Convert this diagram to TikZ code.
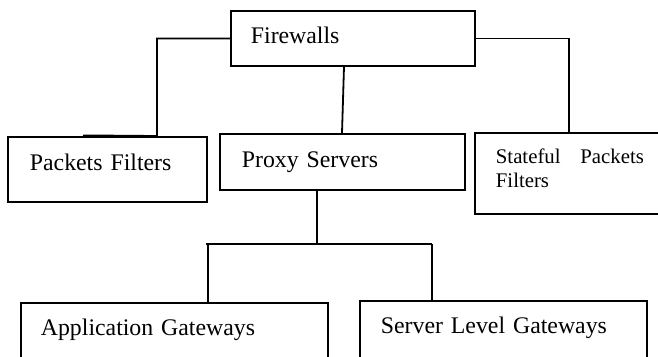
\documentclass[tikz,border=0pt]{standalone}
\usepackage{fontspec}
\setmainfont{Liberation Serif}
\usetikzlibrary{calc}

\tikzset{
  box/.style={draw, line width=1.8pt, anchor=north west, inner ysep=0pt,
    align=left, font=\fontsize{23.8}{25}\selectfont},
  link/.style={line width=1.8pt},
}

\begin{document}
\begin{tikzpicture}[x=1pt, y=-1pt]
  \useasboundingbox[fill=white] (0,0) rectangle (658,356);

  % boxes: text height = top to first baseline, text depth = baseline to bottom
  \node[box, inner xsep=20pt, text width=204pt, text height=33pt, text depth=22pt]
    (fw) at (230,10) {Firewalls};
  \node[box, inner xsep=22pt, text width=155pt, text height=34pt, text depth=31pt]
    (pf) at (7,136) {Packets Filters};
  \node[box, inner xsep=22pt, text width=201pt, text height=34pt, text depth=22pt]
    (ps) at (219,133) {Proxy Servers};
  \node[box, inner xsep=21pt, text width=148pt, text height=31pt, text depth=50pt,
    align=justify, font=\fontsize{20.8}{24}\selectfont]
    (sp) at (474,132) {Stateful Packets Filters};
  \node[box, inner xsep=20pt, text width=267pt, text height=33pt, text depth=40pt]
    (ag) at (20,302) {Application Gateways};
  \node[box, inner xsep=21pt, text width=245pt, text height=33pt, text depth=40pt]
    (sl) at (359,300) {Server Level Gateways};

  % top level connectors
  \draw[link] (fw.west) -| ($(pf.north west)+(150,0)$) -- ($(pf.north west)+(76,-0.6)$);
  \draw[link] (fw.east) -| ($(sp.north west)+(95,0)$);
  \draw[link] ($(fw.south west)+(114,0)$) -- ($(ps.north west)+(123,0)$);

  % gateway branch
  \coordinate (bus)  at (317,244);
  \coordinate (busL) at (206,244);
  \coordinate (busR) at (432,244);
  \draw[link] ($(ps.south west)+(98,0)$) -- (bus);
  \draw[link] (busL) -- (busR);
  \draw[link] ($(busL)+(2,0)$) -- ($(ag.north west)+(188,0)$);
  \draw[link] (busR) -- ($(sl.north west)+(73,0)$);
\end{tikzpicture}
\end{document}
